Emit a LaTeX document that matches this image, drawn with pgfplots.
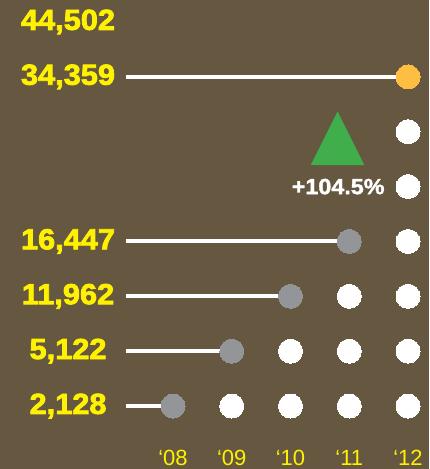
\documentclass[border=0pt]{standalone}
\usepackage{pgfplots}
\pgfplotsset{compat=1.18}
\usepackage{fontspec}
\setmainfont{Liberation Sans}
\newfontfamily\labfont[FakeStretch=1.06,FakeBold=2.6]{Liberation Sans Bold}
\newfontfamily\pctfont[FakeStretch=1.06,FakeBold=1.5]{Liberation Sans Bold}
\definecolor{bg}{HTML}{665741}
\definecolor{ylw}{HTML}{FFF200}
\definecolor{dotgrey}{HTML}{939598}
\definecolor{dotorange}{HTML}{FDBE43}
\definecolor{tri}{HTML}{3FAE4B}
\begin{document}
\begin{tikzpicture}
\begin{axis}[
  width=429pt, height=469pt, scale only axis,
  xmin=2005.055, xmax=2012.357,
  ymin=-1.148, ymax=7.401,
  axis lines=none, ticks=none,
  axis background/.style={fill=bg},
  clip=false,
]
% lines
\addplot[white, line width=4pt] coordinates {(2007.2,0)(2008,0)};
\addplot[white, line width=4pt] coordinates {(2007.2,1)(2009,1)};
\addplot[white, line width=4pt] coordinates {(2007.2,2)(2010,2)};
\addplot[white, line width=4pt] coordinates {(2007.2,3)(2011,3)};
\addplot[white, line width=4pt] coordinates {(2007.2,6)(2012,6)};
% white dots
\addplot[white, only marks, mark=*, mark size=12pt, mark options={fill=white, draw=white, line width=0pt}] coordinates {
 (2009,0)(2010,0)(2011,0)(2012,0)
 (2010,1)(2011,1)(2012,1)
 (2011,2)(2012,2)
 (2012,3)
 (2012,4)
 (2012,5)
};
% grey dots
\addplot[dotgrey, only marks, mark=*, mark size=12pt, mark options={fill=dotgrey, draw=dotgrey, line width=0pt}] coordinates {
 (2008,0)(2009,1)(2010,2)(2011,3)
};
% orange dot
\addplot[dotorange, only marks, mark=*, mark size=12pt, mark options={fill=dotorange, draw=dotorange, line width=0pt}] coordinates {(2012,6)};
% triangle
\addplot[tri, only marks, mark=triangle*, mark size=30.6pt, mark options={fill=tri, draw=none, yscale=1.155}] coordinates {(2010.80,4.716)};
% value labels
\foreach \r/\v in {0/{2,128},1/{5,122},2/{11,962},3/{16,447},6/{34,359},7/{44,502}}{
  \edef\tmp{\noexpand\node[text=ylw, font=\noexpand\labfont\noexpand\fontsize{29}{29}\noexpand\selectfont, anchor=center] at (axis cs:2006.213,\r) {\v};}
  \tmp
}
\node[text=white, font=\pctfont\fontsize{22}{22}\selectfont, anchor=east] at (axis cs:2011.66,4.0) {+104.5\%};
% year labels
\foreach \x/\t in {2008/08,2009/09,2010/10,2011/11,2012/12}{
  \edef\tmp{\noexpand\node[text=ylw, font=\noexpand\fontsize{22}{22}\noexpand\selectfont, anchor=center] at (axis cs:\x,-0.94) {‘\t};}
  \tmp
}
\end{axis}
\end{tikzpicture}
\end{document}
